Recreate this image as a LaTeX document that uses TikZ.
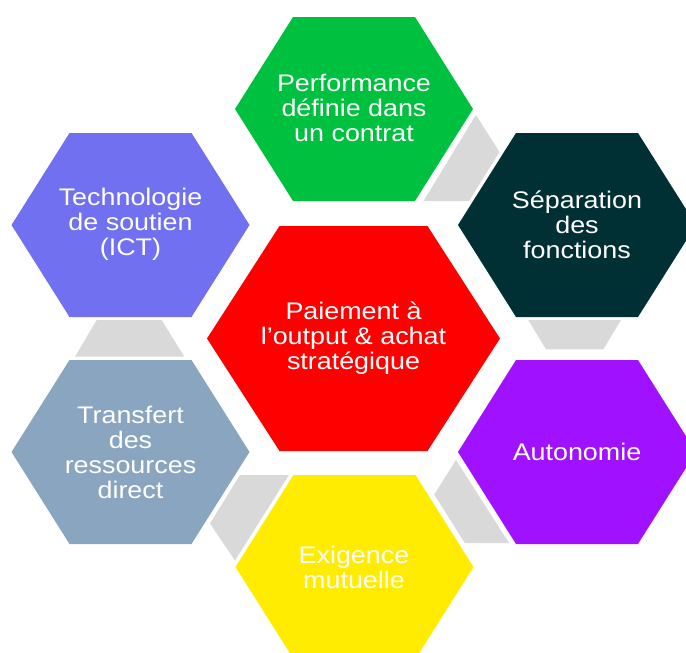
\documentclass[tikz,border=0pt]{standalone}
\usepackage{fontspec}
\setmainfont{Liberation Sans}[FakeStretch=1.12]
\definecolor{cgreen}{RGB}{0,192,64}
\definecolor{cdark}{RGB}{0,47,52}
\definecolor{cpurple}{RGB}{160,18,255}
\definecolor{cyellow}{RGB}{255,236,0}
\definecolor{cslate}{RGB}{138,165,191}
\definecolor{cperi}{RGB}{112,112,240}
\definecolor{cred}{RGB}{255,0,0}
\definecolor{cgray}{RGB}{217,217,217}
\newcommand{\drawhex}[6]{%
  \fill[#1] ({#2-#4},#3) -- ({#2-#5},{#3-#6}) -- ({#2+#5},{#3-#6}) --
    ({#2+#4},#3) -- ({#2+#5},{#3+#6}) -- ({#2-#5},{#3+#6}) -- cycle;}
\tikzset{
  hextext/.style={text=white, align=center, inner sep=0pt,
    font=\fontsize{24}{25}\selectfont},
  linkshape/.style={fill=cgray}
}
\begin{document}
\begin{tikzpicture}[x=1pt,y=-1pt]
\useasboundingbox (0,0) rectangle (686,653);
% outer hexagons
\drawhex{cgreen}{354}{109}{119}{61}{92}
\drawhex{cdark}{577}{225}{119}{61}{92}
\drawhex{cpurple}{577}{452}{119}{61}{92}
\drawhex{cyellow}{354.5}{567}{119}{61}{92}
\drawhex{cslate}{130.5}{452}{119}{61}{92}
\drawhex{cperi}{130.5}{225}{119}{61}{92}
% centre hexagon
\drawhex{cred}{353.5}{338.5}{146.5}{74}{112.5}
% grey links
\fill[linkshape] (476,115) -- (499.5,152) -- (469,201) -- (423.5,201) -- cycle;
\fill[linkshape] (528.3,320) -- (621,320) -- (603.3,349.3) -- (546,349.3) -- cycle;
\fill[linkshape] (456,460) -- (434.3,494.5) -- (464.8,543) -- (509,543) -- cycle;
\fill[linkshape] (240,475) -- (289,475) -- (235,560.5) -- (210,523.5) -- cycle;
\fill[linkshape] (96.7,320) -- (161.7,320) -- (184.3,356.7) -- (75,356.7) -- cycle;
% texts
\node[hextext] (tperf) at (354,108) {Performance\\définie dans\\un contrat};
\node[hextext] (tsep) at (577,225) {Séparation\\des\\fonctions};
\node[hextext] (tauto) at (577,452) {Autonomie};
\node[hextext] (texig) at (354,567) {Exigence\\mutuelle};
\node[hextext] (ttrans) at (130.5,452) {Transfert\\des\\ressources\\direct};
\node[hextext] (ttech) at (130.5,224) {Technologie\\de soutien\\(ICT)};
\node[hextext] (tpay) at (353.5,338) {Paiement à\\l’output \& achat\\stratégique};
\end{tikzpicture}
\end{document}
